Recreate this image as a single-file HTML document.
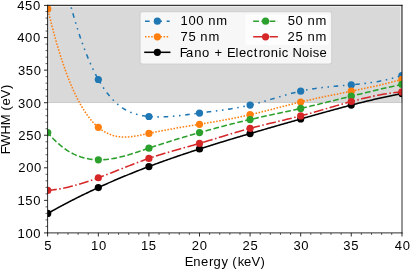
<!DOCTYPE html><html><head><meta charset="utf-8"><title>FWHM vs Energy</title><style>html,body{margin:0;padding:0;background:#fff;overflow:hidden;}svg{display:block;will-change:transform;}text{font-family:"Liberation Sans",sans-serif;fill:#000;}</style></head><body>
<svg width="410" height="269" viewBox="0 0 410 269">
<defs><clipPath id="c"><rect x="47.60" y="5.40" width="354.40" height="227.50"/></clipPath></defs>
<rect x="47.60" y="4.85" width="354.40" height="97.65" fill="#808080" fill-opacity="0.300" stroke="#808080" stroke-opacity="0.300" stroke-width="1.031"/>
<path d="M48.90 6.10V102.00M400.50 6.10V102.00M49.40 6.60H400.00" stroke="#fff" stroke-opacity="0.55" stroke-width="1" fill="none"/>
<g clip-path="url(#c)">
<polyline points="47.75,-102.96 48.93,-96.12 50.12,-89.42 51.30,-82.87 52.49,-76.46 53.67,-70.18 54.86,-64.05 56.04,-58.05 57.22,-52.18 58.41,-46.45 59.59,-40.85 60.78,-35.38 61.96,-30.04 63.15,-24.83 64.33,-19.74 65.51,-14.78 66.70,-9.94 67.88,-5.22 69.07,-0.62 70.25,3.86 71.44,8.23 72.62,12.48 73.80,16.62 74.99,20.65 76.17,24.56 77.36,28.37 78.54,32.07 79.73,35.66 80.91,39.15 82.09,42.54 83.28,45.83 84.46,49.02 85.65,52.11 86.83,55.10 88.02,58.00 89.20,60.81 90.38,63.52 91.57,66.14 92.75,68.68 93.94,71.13 95.12,73.49 96.31,75.77 97.49,77.97 98.67,80.08 99.86,82.12 101.04,84.08 102.23,85.96 103.41,87.77 104.60,89.50 105.78,91.17 106.96,92.76 108.15,94.29 109.33,95.74 110.52,97.14 111.70,98.47 112.89,99.73 114.07,100.94 115.25,102.08 116.44,103.17 117.62,104.21 118.81,105.19 119.99,106.11 121.18,106.98 122.36,107.81 123.54,108.58 124.73,109.31 125.91,110.00 127.10,110.64 128.28,111.23 129.47,111.79 130.65,112.31 131.83,112.79 133.02,113.23 134.20,113.64 135.39,114.02 136.57,114.36 137.76,114.68 138.94,114.97 140.12,115.23 141.31,115.46 142.49,115.67 143.68,115.86 144.86,116.03 146.05,116.18 147.23,116.31 148.41,116.43 149.60,116.53 150.78,116.62 151.97,116.70 153.15,116.76 154.34,116.81 155.52,116.85 156.70,116.88 157.89,116.89 159.07,116.90 160.26,116.89 161.44,116.87 162.63,116.85 163.81,116.81 164.99,116.76 166.18,116.71 167.36,116.65 168.55,116.58 169.73,116.50 170.92,116.41 172.10,116.32 173.28,116.22 174.47,116.11 175.65,116.00 176.84,115.88 178.02,115.76 179.21,115.63 180.39,115.50 181.57,115.36 182.76,115.22 183.94,115.08 185.13,114.93 186.31,114.78 187.50,114.63 188.68,114.47 189.86,114.32 191.05,114.16 192.23,114.00 193.42,113.84 194.60,113.69 195.79,113.53 196.97,113.37 198.15,113.21 199.34,113.06 200.52,112.90 201.71,112.75 202.89,112.60 204.08,112.44 205.26,112.29 206.44,112.14 207.63,111.99 208.81,111.85 210.00,111.70 211.18,111.55 212.37,111.40 213.55,111.25 214.73,111.09 215.92,110.94 217.10,110.79 218.29,110.63 219.47,110.47 220.66,110.31 221.84,110.15 223.02,109.99 224.21,109.82 225.39,109.65 226.58,109.48 227.76,109.30 228.94,109.12 230.13,108.94 231.31,108.75 232.50,108.56 233.68,108.37 234.87,108.17 236.05,107.96 237.23,107.75 238.42,107.54 239.60,107.32 240.79,107.09 241.97,106.86 243.16,106.62 244.34,106.38 245.52,106.13 246.71,105.87 247.89,105.61 249.08,105.34 250.26,105.06 251.45,104.77 252.63,104.48 253.81,104.18 255.00,103.87 256.18,103.56 257.37,103.24 258.55,102.92 259.74,102.59 260.92,102.26 262.10,101.92 263.29,101.58 264.47,101.24 265.66,100.89 266.84,100.55 268.03,100.20 269.21,99.84 270.39,99.49 271.58,99.13 272.76,98.78 273.95,98.42 275.13,98.07 276.32,97.71 277.50,97.36 278.68,97.00 279.87,96.65 281.05,96.30 282.24,95.95 283.42,95.61 284.61,95.27 285.79,94.93 286.97,94.59 288.16,94.26 289.34,93.94 290.53,93.62 291.71,93.30 292.90,92.99 294.08,92.69 295.26,92.39 296.45,92.10 297.63,91.82 298.82,91.54 300.00,91.28 301.19,91.02 302.37,90.77 303.55,90.52 304.74,90.29 305.92,90.06 307.11,89.85 308.29,89.63 309.48,89.43 310.66,89.23 311.84,89.04 313.03,88.86 314.21,88.68 315.40,88.50 316.58,88.34 317.77,88.17 318.95,88.02 320.13,87.87 321.32,87.72 322.50,87.58 323.69,87.44 324.87,87.30 326.06,87.17 327.24,87.04 328.42,86.92 329.61,86.80 330.79,86.68 331.98,86.56 333.16,86.45 334.35,86.34 335.53,86.23 336.71,86.12 337.90,86.01 339.08,85.91 340.27,85.80 341.45,85.70 342.64,85.59 343.82,85.49 345.00,85.38 346.19,85.28 347.37,85.17 348.56,85.07 349.74,84.96 350.93,84.85 352.11,84.74 353.29,84.63 354.48,84.51 355.66,84.40 356.85,84.28 358.03,84.16 359.22,84.03 360.40,83.90 361.58,83.77 362.77,83.64 363.95,83.50 365.14,83.36 366.32,83.21 367.51,83.06 368.69,82.90 369.87,82.74 371.06,82.57 372.24,82.39 373.43,82.21 374.61,82.03 375.80,81.84 376.98,81.64 378.16,81.43 379.35,81.22 380.53,81.00 381.72,80.77 382.90,80.54 384.09,80.30 385.27,80.04 386.45,79.78 387.64,79.52 388.82,79.24 390.01,78.95 391.19,78.65 392.38,78.35 393.56,78.03 394.74,77.71 395.93,77.37 397.11,77.02 398.30,76.66 399.48,76.30 400.67,75.91 401.85,75.52" fill="none" stroke="#1f77b4" stroke-width="1.546" stroke-linejoin="round" stroke-dasharray="4.638,4.638,1.546,4.638,1.546,4.638" stroke-dashoffset="10.87"/>
<circle cx="47.75" cy="-102.96" r="3.60" fill="#1f77b4"/>
<circle cx="98.34" cy="79.49" r="3.60" fill="#1f77b4"/>
<circle cx="148.92" cy="116.48" r="3.60" fill="#1f77b4"/>
<circle cx="199.51" cy="113.03" r="3.60" fill="#1f77b4"/>
<circle cx="250.09" cy="105.10" r="3.60" fill="#1f77b4"/>
<circle cx="300.68" cy="91.13" r="3.60" fill="#1f77b4"/>
<circle cx="351.26" cy="84.82" r="3.60" fill="#1f77b4"/>
<circle cx="401.85" cy="75.52" r="3.60" fill="#1f77b4"/>
<polyline points="47.75,8.90 48.93,13.84 50.12,18.67 51.30,23.36 52.49,27.94 53.67,32.39 54.86,36.73 56.04,40.95 57.22,45.06 58.41,49.05 59.59,52.92 60.78,56.69 61.96,60.35 63.15,63.89 64.33,67.34 65.51,70.67 66.70,73.91 67.88,77.04 69.07,80.07 70.25,83.00 71.44,85.84 72.62,88.58 73.80,91.22 74.99,93.77 76.17,96.23 77.36,98.60 78.54,100.88 79.73,103.08 80.91,105.19 82.09,107.21 83.28,109.16 84.46,111.02 85.65,112.80 86.83,114.51 88.02,116.14 89.20,117.69 90.38,119.17 91.57,120.58 92.75,121.92 93.94,123.19 95.12,124.39 96.31,125.53 97.49,126.60 98.67,127.61 99.86,128.56 101.04,129.45 102.23,130.28 103.41,131.06 104.60,131.78 105.78,132.44 106.96,133.06 108.15,133.62 109.33,134.13 110.52,134.60 111.70,135.02 112.89,135.40 114.07,135.73 115.25,136.02 116.44,136.27 117.62,136.49 118.81,136.66 119.99,136.80 121.18,136.91 122.36,136.99 123.54,137.03 124.73,137.04 125.91,137.03 127.10,136.99 128.28,136.93 129.47,136.84 130.65,136.73 131.83,136.60 133.02,136.45 134.20,136.28 135.39,136.10 136.57,135.90 137.76,135.69 138.94,135.47 140.12,135.24 141.31,135.00 142.49,134.76 143.68,134.51 144.86,134.25 146.05,134.00 147.23,133.74 148.41,133.49 149.60,133.23 150.78,132.98 151.97,132.73 153.15,132.49 154.34,132.25 155.52,132.01 156.70,131.77 157.89,131.54 159.07,131.30 160.26,131.08 161.44,130.85 162.63,130.62 163.81,130.40 164.99,130.18 166.18,129.96 167.36,129.74 168.55,129.53 169.73,129.31 170.92,129.10 172.10,128.89 173.28,128.68 174.47,128.48 175.65,128.27 176.84,128.06 178.02,127.86 179.21,127.66 180.39,127.46 181.57,127.26 182.76,127.06 183.94,126.86 185.13,126.66 186.31,126.46 187.50,126.26 188.68,126.07 189.86,125.87 191.05,125.67 192.23,125.48 193.42,125.28 194.60,125.09 195.79,124.89 196.97,124.70 198.15,124.50 199.34,124.30 200.52,124.11 201.71,123.91 202.89,123.71 204.08,123.52 205.26,123.32 206.44,123.12 207.63,122.92 208.81,122.72 210.00,122.52 211.18,122.31 212.37,122.11 213.55,121.91 214.73,121.70 215.92,121.49 217.10,121.28 218.29,121.08 219.47,120.86 220.66,120.65 221.84,120.44 223.02,120.22 224.21,120.01 225.39,119.79 226.58,119.57 227.76,119.34 228.94,119.12 230.13,118.89 231.31,118.67 232.50,118.44 233.68,118.20 234.87,117.97 236.05,117.73 237.23,117.49 238.42,117.25 239.60,117.01 240.79,116.76 241.97,116.51 243.16,116.26 244.34,116.00 245.52,115.74 246.71,115.48 247.89,115.22 249.08,114.95 250.26,114.68 251.45,114.41 252.63,114.13 253.81,113.85 255.00,113.57 256.18,113.29 257.37,113.00 258.55,112.71 259.74,112.42 260.92,112.12 262.10,111.83 263.29,111.53 264.47,111.23 265.66,110.93 266.84,110.63 268.03,110.33 269.21,110.02 270.39,109.72 271.58,109.41 272.76,109.10 273.95,108.80 275.13,108.49 276.32,108.18 277.50,107.87 278.68,107.56 279.87,107.25 281.05,106.94 282.24,106.64 283.42,106.33 284.61,106.02 285.79,105.71 286.97,105.41 288.16,105.10 289.34,104.80 290.53,104.50 291.71,104.20 292.90,103.90 294.08,103.60 295.26,103.31 296.45,103.01 297.63,102.72 298.82,102.43 300.00,102.14 301.19,101.86 302.37,101.57 303.55,101.29 304.74,101.02 305.92,100.74 307.11,100.47 308.29,100.20 309.48,99.93 310.66,99.66 311.84,99.40 313.03,99.13 314.21,98.87 315.40,98.61 316.58,98.35 317.77,98.10 318.95,97.84 320.13,97.59 321.32,97.34 322.50,97.09 323.69,96.84 324.87,96.59 326.06,96.34 327.24,96.09 328.42,95.85 329.61,95.60 330.79,95.36 331.98,95.12 333.16,94.87 334.35,94.63 335.53,94.39 336.71,94.15 337.90,93.91 339.08,93.67 340.27,93.43 341.45,93.19 342.64,92.95 343.82,92.71 345.00,92.47 346.19,92.23 347.37,91.99 348.56,91.74 349.74,91.50 350.93,91.26 352.11,91.02 353.29,90.78 354.48,90.53 355.66,90.29 356.85,90.04 358.03,89.80 359.22,89.55 360.40,89.30 361.58,89.05 362.77,88.80 363.95,88.55 365.14,88.30 366.32,88.04 367.51,87.79 368.69,87.53 369.87,87.27 371.06,87.01 372.24,86.75 373.43,86.49 374.61,86.22 375.80,85.95 376.98,85.68 378.16,85.41 379.35,85.14 380.53,84.86 381.72,84.58 382.90,84.30 384.09,84.02 385.27,83.73 386.45,83.44 387.64,83.15 388.82,82.86 390.01,82.56 391.19,82.26 392.38,81.96 393.56,81.65 394.74,81.34 395.93,81.03 397.11,80.72 398.30,80.40 399.48,80.08 400.67,79.75 401.85,79.42" fill="none" stroke="#ff7f0e" stroke-width="1.546" stroke-linejoin="round" stroke-dasharray="1.546,1.546" stroke-dashoffset="1.49"/>
<circle cx="47.75" cy="8.90" r="3.60" fill="#ff7f0e"/>
<circle cx="98.34" cy="127.33" r="3.60" fill="#ff7f0e"/>
<circle cx="148.92" cy="133.38" r="3.60" fill="#ff7f0e"/>
<circle cx="199.51" cy="124.28" r="3.60" fill="#ff7f0e"/>
<circle cx="250.09" cy="114.72" r="3.60" fill="#ff7f0e"/>
<circle cx="300.68" cy="101.98" r="3.60" fill="#ff7f0e"/>
<circle cx="351.26" cy="91.19" r="3.60" fill="#ff7f0e"/>
<circle cx="401.85" cy="79.42" r="3.60" fill="#ff7f0e"/>
<polyline points="47.75,213.46 48.93,212.79 50.12,212.12 51.30,211.46 52.49,210.79 53.67,210.14 54.86,209.48 56.04,208.83 57.22,208.19 58.41,207.54 59.59,206.90 60.78,206.26 61.96,205.63 63.15,205.00 64.33,204.37 65.51,203.74 66.70,203.12 67.88,202.50 69.07,201.88 70.25,201.27 71.44,200.66 72.62,200.05 73.80,199.45 74.99,198.85 76.17,198.25 77.36,197.66 78.54,197.06 79.73,196.48 80.91,195.89 82.09,195.31 83.28,194.72 84.46,194.15 85.65,193.57 86.83,193.00 88.02,192.43 89.20,191.86 90.38,191.30 91.57,190.74 92.75,190.18 93.94,189.63 95.12,189.07 96.31,188.52 97.49,187.98 98.67,187.43 99.86,186.89 101.04,186.35 102.23,185.81 103.41,185.28 104.60,184.75 105.78,184.22 106.96,183.69 108.15,183.16 109.33,182.64 110.52,182.12 111.70,181.61 112.89,181.09 114.07,180.58 115.25,180.07 116.44,179.56 117.62,179.06 118.81,178.56 119.99,178.06 121.18,177.56 122.36,177.06 123.54,176.57 124.73,176.08 125.91,175.59 127.10,175.10 128.28,174.62 129.47,174.14 130.65,173.66 131.83,173.18 133.02,172.71 134.20,172.23 135.39,171.76 136.57,171.29 137.76,170.83 138.94,170.36 140.12,169.90 141.31,169.44 142.49,168.98 143.68,168.52 144.86,168.07 146.05,167.62 147.23,167.17 148.41,166.72 149.60,166.27 150.78,165.83 151.97,165.38 153.15,164.94 154.34,164.50 155.52,164.07 156.70,163.63 157.89,163.20 159.07,162.76 160.26,162.33 161.44,161.91 162.63,161.48 163.81,161.06 164.99,160.63 166.18,160.21 167.36,159.79 168.55,159.37 169.73,158.96 170.92,158.54 172.10,158.13 173.28,157.72 174.47,157.31 175.65,156.90 176.84,156.49 178.02,156.09 179.21,155.68 180.39,155.28 181.57,154.88 182.76,154.48 183.94,154.08 185.13,153.68 186.31,153.29 187.50,152.90 188.68,152.50 189.86,152.11 191.05,151.72 192.23,151.33 193.42,150.95 194.60,150.56 195.79,150.18 196.97,149.79 198.15,149.41 199.34,149.03 200.52,148.65 201.71,148.27 202.89,147.89 204.08,147.52 205.26,147.14 206.44,146.77 207.63,146.40 208.81,146.02 210.00,145.65 211.18,145.28 212.37,144.91 213.55,144.55 214.73,144.18 215.92,143.81 217.10,143.45 218.29,143.08 219.47,142.72 220.66,142.36 221.84,142.00 223.02,141.64 224.21,141.28 225.39,140.92 226.58,140.56 227.76,140.20 228.94,139.84 230.13,139.49 231.31,139.13 232.50,138.78 233.68,138.42 234.87,138.07 236.05,137.72 237.23,137.36 238.42,137.01 239.60,136.66 240.79,136.31 241.97,135.96 243.16,135.61 244.34,135.26 245.52,134.91 246.71,134.57 247.89,134.22 249.08,133.87 250.26,133.52 251.45,133.18 252.63,132.83 253.81,132.48 255.00,132.14 256.18,131.79 257.37,131.45 258.55,131.10 259.74,130.76 260.92,130.41 262.10,130.07 263.29,129.73 264.47,129.38 265.66,129.04 266.84,128.70 268.03,128.36 269.21,128.01 270.39,127.67 271.58,127.33 272.76,126.99 273.95,126.65 275.13,126.31 276.32,125.97 277.50,125.63 278.68,125.29 279.87,124.95 281.05,124.61 282.24,124.27 283.42,123.93 284.61,123.59 285.79,123.25 286.97,122.91 288.16,122.58 289.34,122.24 290.53,121.90 291.71,121.56 292.90,121.22 294.08,120.89 295.26,120.55 296.45,120.21 297.63,119.88 298.82,119.54 300.00,119.20 301.19,118.87 302.37,118.53 303.55,118.19 304.74,117.86 305.92,117.52 307.11,117.18 308.29,116.85 309.48,116.51 310.66,116.18 311.84,115.84 313.03,115.51 314.21,115.18 315.40,114.84 316.58,114.51 317.77,114.18 318.95,113.85 320.13,113.52 321.32,113.19 322.50,112.86 323.69,112.53 324.87,112.20 326.06,111.87 327.24,111.54 328.42,111.22 329.61,110.89 330.79,110.56 331.98,110.24 333.16,109.92 334.35,109.59 335.53,109.27 336.71,108.95 337.90,108.63 339.08,108.31 340.27,108.00 341.45,107.68 342.64,107.36 343.82,107.05 345.00,106.73 346.19,106.42 347.37,106.11 348.56,105.80 349.74,105.49 350.93,105.19 352.11,104.88 353.29,104.57 354.48,104.27 355.66,103.97 356.85,103.67 358.03,103.37 359.22,103.07 360.40,102.77 361.58,102.48 362.77,102.18 363.95,101.89 365.14,101.60 366.32,101.31 367.51,101.03 368.69,100.74 369.87,100.46 371.06,100.17 372.24,99.89 373.43,99.62 374.61,99.34 375.80,99.06 376.98,98.79 378.16,98.52 379.35,98.25 380.53,97.98 381.72,97.72 382.90,97.45 384.09,97.19 385.27,96.93 386.45,96.68 387.64,96.42 388.82,96.17 390.01,95.92 391.19,95.67 392.38,95.42 393.56,95.18 394.74,94.93 395.93,94.69 397.11,94.46 398.30,94.22 399.48,93.99 400.67,93.76 401.85,93.53" fill="none" stroke="black" stroke-width="1.546" stroke-linejoin="round"/>
<circle cx="47.75" cy="213.46" r="3.60" fill="black"/>
<circle cx="98.34" cy="187.59" r="3.60" fill="black"/>
<circle cx="148.92" cy="166.53" r="3.60" fill="black"/>
<circle cx="199.51" cy="148.97" r="3.60" fill="black"/>
<circle cx="250.09" cy="133.57" r="3.60" fill="black"/>
<circle cx="300.68" cy="119.01" r="3.60" fill="black"/>
<circle cx="351.26" cy="105.10" r="3.60" fill="black"/>
<circle cx="401.85" cy="93.53" r="3.60" fill="black"/>
<polyline points="47.75,132.60 48.93,134.00 50.12,135.36 51.30,136.67 52.49,137.94 53.67,139.17 54.86,140.36 56.04,141.50 57.22,142.61 58.41,143.67 59.59,144.70 60.78,145.68 61.96,146.63 63.15,147.54 64.33,148.41 65.51,149.25 66.70,150.05 67.88,150.81 69.07,151.54 70.25,152.23 71.44,152.89 72.62,153.51 73.80,154.10 74.99,154.66 76.17,155.19 77.36,155.68 78.54,156.15 79.73,156.58 80.91,156.99 82.09,157.36 83.28,157.71 84.46,158.03 85.65,158.31 86.83,158.58 88.02,158.81 89.20,159.02 90.38,159.21 91.57,159.37 92.75,159.50 93.94,159.61 95.12,159.70 96.31,159.77 97.49,159.81 98.67,159.83 99.86,159.83 101.04,159.81 102.23,159.77 103.41,159.71 104.60,159.63 105.78,159.53 106.96,159.42 108.15,159.28 109.33,159.13 110.52,158.97 111.70,158.78 112.89,158.59 114.07,158.37 115.25,158.15 116.44,157.91 117.62,157.66 118.81,157.39 119.99,157.11 121.18,156.83 122.36,156.53 123.54,156.22 124.73,155.90 125.91,155.57 127.10,155.23 128.28,154.89 129.47,154.53 130.65,154.17 131.83,153.81 133.02,153.43 134.20,153.06 135.39,152.67 136.57,152.29 137.76,151.90 138.94,151.50 140.12,151.11 141.31,150.71 142.49,150.31 143.68,149.91 144.86,149.50 146.05,149.10 147.23,148.70 148.41,148.30 149.60,147.90 150.78,147.50 151.97,147.11 153.15,146.72 154.34,146.33 155.52,145.94 156.70,145.55 157.89,145.16 159.07,144.78 160.26,144.40 161.44,144.02 162.63,143.64 163.81,143.26 164.99,142.88 166.18,142.51 167.36,142.14 168.55,141.77 169.73,141.40 170.92,141.03 172.10,140.67 173.28,140.30 174.47,139.94 175.65,139.58 176.84,139.22 178.02,138.86 179.21,138.50 180.39,138.15 181.57,137.79 182.76,137.44 183.94,137.09 185.13,136.74 186.31,136.39 187.50,136.04 188.68,135.70 189.86,135.35 191.05,135.01 192.23,134.67 193.42,134.33 194.60,133.99 195.79,133.65 196.97,133.31 198.15,132.98 199.34,132.64 200.52,132.31 201.71,131.98 202.89,131.65 204.08,131.32 205.26,130.99 206.44,130.66 207.63,130.33 208.81,130.01 210.00,129.68 211.18,129.36 212.37,129.04 213.55,128.72 214.73,128.40 215.92,128.08 217.10,127.77 218.29,127.45 219.47,127.14 220.66,126.83 221.84,126.51 223.02,126.20 224.21,125.90 225.39,125.59 226.58,125.28 227.76,124.98 228.94,124.68 230.13,124.38 231.31,124.08 232.50,123.78 233.68,123.48 234.87,123.19 236.05,122.89 237.23,122.60 238.42,122.31 239.60,122.02 240.79,121.73 241.97,121.45 243.16,121.16 244.34,120.88 245.52,120.60 246.71,120.32 247.89,120.04 249.08,119.77 250.26,119.49 251.45,119.22 252.63,118.95 253.81,118.68 255.00,118.41 256.18,118.14 257.37,117.88 258.55,117.61 259.74,117.35 260.92,117.09 262.10,116.82 263.29,116.56 264.47,116.30 265.66,116.05 266.84,115.79 268.03,115.53 269.21,115.27 270.39,115.02 271.58,114.76 272.76,114.51 273.95,114.25 275.13,114.00 276.32,113.74 277.50,113.49 278.68,113.23 279.87,112.98 281.05,112.72 282.24,112.47 283.42,112.21 284.61,111.96 285.79,111.70 286.97,111.45 288.16,111.19 289.34,110.93 290.53,110.67 291.71,110.41 292.90,110.15 294.08,109.89 295.26,109.63 296.45,109.37 297.63,109.10 298.82,108.84 300.00,108.57 301.19,108.30 302.37,108.03 303.55,107.76 304.74,107.49 305.92,107.22 307.11,106.94 308.29,106.67 309.48,106.39 310.66,106.11 311.84,105.83 313.03,105.55 314.21,105.27 315.40,104.99 316.58,104.71 317.77,104.42 318.95,104.14 320.13,103.85 321.32,103.57 322.50,103.28 323.69,102.99 324.87,102.70 326.06,102.41 327.24,102.12 328.42,101.83 329.61,101.54 330.79,101.25 331.98,100.96 333.16,100.67 334.35,100.38 335.53,100.09 336.71,99.79 337.90,99.50 339.08,99.21 340.27,98.91 341.45,98.62 342.64,98.33 343.82,98.03 345.00,97.74 346.19,97.45 347.37,97.15 348.56,96.86 349.74,96.57 350.93,96.28 352.11,95.98 353.29,95.69 354.48,95.40 355.66,95.11 356.85,94.82 358.03,94.53 359.22,94.24 360.40,93.95 361.58,93.66 362.77,93.37 363.95,93.08 365.14,92.79 366.32,92.51 367.51,92.22 368.69,91.94 369.87,91.65 371.06,91.37 372.24,91.08 373.43,90.80 374.61,90.52 375.80,90.24 376.98,89.96 378.16,89.69 379.35,89.41 380.53,89.14 381.72,88.86 382.90,88.59 384.09,88.32 385.27,88.05 386.45,87.78 387.64,87.51 388.82,87.25 390.01,86.98 391.19,86.72 392.38,86.46 393.56,86.20 394.74,85.94 395.93,85.68 397.11,85.43 398.30,85.18 399.48,84.93 400.67,84.68 401.85,84.43" fill="none" stroke="#2ca02c" stroke-width="1.546" stroke-linejoin="round" stroke-dasharray="5.720,2.473" stroke-dashoffset="1.21"/>
<circle cx="47.75" cy="132.60" r="3.60" fill="#2ca02c"/>
<circle cx="98.34" cy="159.83" r="3.60" fill="#2ca02c"/>
<circle cx="148.92" cy="148.13" r="3.60" fill="#2ca02c"/>
<circle cx="199.51" cy="132.60" r="3.60" fill="#2ca02c"/>
<circle cx="250.09" cy="119.53" r="3.60" fill="#2ca02c"/>
<circle cx="300.68" cy="108.42" r="3.60" fill="#2ca02c"/>
<circle cx="351.26" cy="96.19" r="3.60" fill="#2ca02c"/>
<circle cx="401.85" cy="84.43" r="3.60" fill="#2ca02c"/>
<polyline points="47.75,190.38 48.93,190.28 50.12,190.17 51.30,190.05 52.49,189.91 53.67,189.77 54.86,189.61 56.04,189.44 57.22,189.26 58.41,189.07 59.59,188.87 60.78,188.66 61.96,188.44 63.15,188.21 64.33,187.97 65.51,187.72 66.70,187.46 67.88,187.19 69.07,186.91 70.25,186.62 71.44,186.33 72.62,186.02 73.80,185.71 74.99,185.39 76.17,185.06 77.36,184.73 78.54,184.39 79.73,184.04 80.91,183.68 82.09,183.32 83.28,182.95 84.46,182.57 85.65,182.19 86.83,181.80 88.02,181.41 89.20,181.01 90.38,180.61 91.57,180.20 92.75,179.78 93.94,179.36 95.12,178.94 96.31,178.51 97.49,178.08 98.67,177.64 99.86,177.20 101.04,176.76 102.23,176.32 103.41,175.87 104.60,175.41 105.78,174.96 106.96,174.50 108.15,174.04 109.33,173.58 110.52,173.12 111.70,172.66 112.89,172.19 114.07,171.72 115.25,171.26 116.44,170.79 117.62,170.32 118.81,169.85 119.99,169.38 121.18,168.91 122.36,168.44 123.54,167.97 124.73,167.50 125.91,167.03 127.10,166.56 128.28,166.10 129.47,165.64 130.65,165.17 131.83,164.71 133.02,164.25 134.20,163.80 135.39,163.34 136.57,162.89 137.76,162.45 138.94,162.00 140.12,161.56 141.31,161.12 142.49,160.69 143.68,160.26 144.86,159.83 146.05,159.41 147.23,158.99 148.41,158.58 149.60,158.17 150.78,157.77 151.97,157.37 153.15,156.97 154.34,156.58 155.52,156.20 156.70,155.82 157.89,155.44 159.07,155.07 160.26,154.70 161.44,154.33 162.63,153.97 163.81,153.61 164.99,153.25 166.18,152.90 167.36,152.55 168.55,152.20 169.73,151.85 170.92,151.51 172.10,151.17 173.28,150.82 174.47,150.49 175.65,150.15 176.84,149.81 178.02,149.47 179.21,149.14 180.39,148.81 181.57,148.47 182.76,148.14 183.94,147.81 185.13,147.48 186.31,147.14 187.50,146.81 188.68,146.48 189.86,146.14 191.05,145.81 192.23,145.47 193.42,145.14 194.60,144.80 195.79,144.46 196.97,144.12 198.15,143.78 199.34,143.43 200.52,143.09 201.71,142.74 202.89,142.39 204.08,142.04 205.26,141.68 206.44,141.33 207.63,140.97 208.81,140.61 210.00,140.25 211.18,139.89 212.37,139.53 213.55,139.17 214.73,138.81 215.92,138.45 217.10,138.09 218.29,137.72 219.47,137.36 220.66,137.00 221.84,136.64 223.02,136.27 224.21,135.91 225.39,135.55 226.58,135.19 227.76,134.83 228.94,134.47 230.13,134.11 231.31,133.76 232.50,133.40 233.68,133.05 234.87,132.70 236.05,132.35 237.23,132.00 238.42,131.65 239.60,131.31 240.79,130.97 241.97,130.63 243.16,130.29 244.34,129.95 245.52,129.62 246.71,129.29 247.89,128.97 249.08,128.64 250.26,128.33 251.45,128.01 252.63,127.70 253.81,127.39 255.00,127.08 256.18,126.77 257.37,126.47 258.55,126.17 259.74,125.88 260.92,125.58 262.10,125.29 263.29,125.00 264.47,124.71 265.66,124.42 266.84,124.13 268.03,123.85 269.21,123.56 270.39,123.28 271.58,123.00 272.76,122.72 273.95,122.44 275.13,122.15 276.32,121.87 277.50,121.59 278.68,121.31 279.87,121.03 281.05,120.75 282.24,120.47 283.42,120.19 284.61,119.90 285.79,119.62 286.97,119.33 288.16,119.04 289.34,118.76 290.53,118.47 291.71,118.17 292.90,117.88 294.08,117.58 295.26,117.29 296.45,116.99 297.63,116.68 298.82,116.38 300.00,116.07 301.19,115.76 302.37,115.44 303.55,115.13 304.74,114.81 305.92,114.48 307.11,114.16 308.29,113.83 309.48,113.50 310.66,113.17 311.84,112.84 313.03,112.50 314.21,112.16 315.40,111.83 316.58,111.49 317.77,111.15 318.95,110.80 320.13,110.46 321.32,110.12 322.50,109.77 323.69,109.43 324.87,109.08 326.06,108.73 327.24,108.39 328.42,108.04 329.61,107.69 330.79,107.35 331.98,107.00 333.16,106.66 334.35,106.31 335.53,105.97 336.71,105.62 337.90,105.28 339.08,104.94 340.27,104.60 341.45,104.26 342.64,103.92 343.82,103.59 345.00,103.25 346.19,102.92 347.37,102.59 348.56,102.26 349.74,101.94 350.93,101.62 352.11,101.29 353.29,100.98 354.48,100.66 355.66,100.35 356.85,100.04 358.03,99.74 359.22,99.43 360.40,99.14 361.58,98.84 362.77,98.55 363.95,98.26 365.14,97.98 366.32,97.70 367.51,97.42 368.69,97.15 369.87,96.89 371.06,96.63 372.24,96.37 373.43,96.12 374.61,95.87 375.80,95.63 376.98,95.39 378.16,95.16 379.35,94.94 380.53,94.72 381.72,94.51 382.90,94.30 384.09,94.10 385.27,93.90 386.45,93.71 387.64,93.53 388.82,93.36 390.01,93.19 391.19,93.03 392.38,92.87 393.56,92.73 394.74,92.59 395.93,92.45 397.11,92.33 398.30,92.21 399.48,92.10 400.67,92.00 401.85,91.91" fill="none" stroke="#d62728" stroke-width="1.546" stroke-linejoin="round" stroke-dasharray="9.893,2.473,1.546,2.473" stroke-dashoffset="0.78"/>
<circle cx="47.75" cy="190.38" r="3.60" fill="#d62728"/>
<circle cx="98.34" cy="177.77" r="3.60" fill="#d62728"/>
<circle cx="148.92" cy="158.40" r="3.60" fill="#d62728"/>
<circle cx="199.51" cy="143.38" r="3.60" fill="#d62728"/>
<circle cx="250.09" cy="128.37" r="3.60" fill="#d62728"/>
<circle cx="300.68" cy="115.89" r="3.60" fill="#d62728"/>
<circle cx="351.26" cy="101.52" r="3.60" fill="#d62728"/>
<circle cx="401.85" cy="91.91" r="3.60" fill="#d62728"/>
</g>
<path d="M47.60 232.90v3.61M98.34 232.90v3.61M148.92 232.90v3.61M199.51 232.90v3.61M250.09 232.90v3.61M300.68 232.90v3.61M351.26 232.90v3.61M402.00 232.90v3.61M47.60 232.90h-3.61M47.60 200.35h-3.61M47.60 167.80h-3.61M47.60 135.25h-3.61M47.60 102.70h-3.61M47.60 70.15h-3.61M47.60 37.60h-3.61M47.60 5.40h-3.61" stroke="#000" stroke-width="0.824" fill="none"/>
<path d="M57.87 232.90v2.06M67.98 232.90v2.06M78.10 232.90v2.06M88.22 232.90v2.06M108.45 232.90v2.06M118.57 232.90v2.06M128.69 232.90v2.06M138.80 232.90v2.06M159.04 232.90v2.06M169.16 232.90v2.06M179.27 232.90v2.06M189.39 232.90v2.06M209.62 232.90v2.06M219.74 232.90v2.06M229.86 232.90v2.06M239.98 232.90v2.06M260.21 232.90v2.06M270.33 232.90v2.06M280.44 232.90v2.06M290.56 232.90v2.06M310.80 232.90v2.06M320.91 232.90v2.06M331.03 232.90v2.06M341.15 232.90v2.06M361.38 232.90v2.06M371.50 232.90v2.06M381.62 232.90v2.06M391.73 232.90v2.06M47.60 226.39h-2.06M47.60 219.88h-2.06M47.60 213.37h-2.06M47.60 206.86h-2.06M47.60 193.84h-2.06M47.60 187.33h-2.06M47.60 180.82h-2.06M47.60 174.31h-2.06M47.60 161.29h-2.06M47.60 154.78h-2.06M47.60 148.27h-2.06M47.60 141.76h-2.06M47.60 128.74h-2.06M47.60 122.23h-2.06M47.60 115.72h-2.06M47.60 109.21h-2.06M47.60 96.19h-2.06M47.60 89.68h-2.06M47.60 83.17h-2.06M47.60 76.66h-2.06M47.60 63.64h-2.06M47.60 57.13h-2.06M47.60 50.62h-2.06M47.60 44.11h-2.06M47.60 31.09h-2.06M47.60 24.58h-2.06M47.60 18.07h-2.06M47.60 11.56h-2.06" stroke="#000" stroke-width="0.618" fill="none"/>
<path d="M47.60 5.40V232.90M402.00 5.40V232.90M47.60 5.40H402.00M47.60 232.90H402.00" stroke="#000" stroke-width="0.824" fill="none" stroke-linecap="square"/>
<rect x="140.10" y="11.65" width="191.60" height="52.35" rx="2.47" fill="#fff" fill-opacity="0.8" stroke="#cccccc" stroke-opacity="0.8" stroke-width="1.031"/>
<rect x="245.20" y="14.50" width="83.60" height="30.40" rx="2.47" fill="#fff" fill-opacity="0.80"/>
<path d="M145.00 21.20h24.70" stroke="#1f77b4" stroke-width="1.546" stroke-dasharray="4.638,4.638,1.546,4.638,1.546,4.638"/>
<circle cx="157.35" cy="21.20" r="3.60" fill="#1f77b4"/>
<text x="180.55 188.49 196.36 204.08 208.18 216.34" y="25.45" font-size="13.00">100 nm</text>
<path d="M145.00 36.80h24.70" stroke="#ff7f0e" stroke-width="1.546" stroke-dasharray="1.546,1.546"/>
<circle cx="157.35" cy="36.80" r="3.60" fill="#ff7f0e"/>
<text x="180.59 188.44 196.21 200.31 208.47" y="41.00" font-size="13.00">75 nm</text>
<path d="M145.00 52.30h24.70" stroke="black" stroke-width="1.546" stroke-linecap="square"/>
<circle cx="157.35" cy="52.30" r="3.60" fill="black"/>
<text x="179.86 186.00 194.21 201.89 209.45 214.61 223.75 227.06 235.62 239.00 246.40 253.79 258.67 263.06 270.79 278.59 281.75 288.71 292.41 301.91 309.59 312.81 319.41" y="56.55" font-size="13.00">Fano + Electronic Noise</text>
<path d="M253.20 21.20h24.70" stroke="#2ca02c" stroke-width="1.546" stroke-dasharray="5.720,2.473"/>
<circle cx="265.55" cy="21.20" r="3.60" fill="#2ca02c"/>
<text x="287.67 295.59 303.31 307.41 315.57" y="25.45" font-size="13.00">50 nm</text>
<path d="M253.20 36.80h24.70" stroke="#d62728" stroke-width="1.546" stroke-dasharray="9.893,2.473,1.546,2.473"/>
<circle cx="265.55" cy="36.80" r="3.60" fill="#d62728"/>
<text x="287.55 295.54 303.31 307.41 315.57" y="41.00" font-size="13.00">25 nm</text>
<text x="44.14" y="249.71" font-size="13.00">5</text>
<text x="91.02 98.96" y="249.71" font-size="13.00">10</text>
<text x="140.89 148.78" y="249.71" font-size="13.00">15</text>
<text x="191.83 199.87" y="249.71" font-size="13.00">20</text>
<text x="242.59 250.58" y="249.71" font-size="13.00">25</text>
<text x="293.40 301.26" y="249.71" font-size="13.00">30</text>
<text x="343.37 351.18" y="249.71" font-size="13.00">35</text>
<text x="394.75 402.63" y="249.71" font-size="13.00">40</text>
<text x="184.69 193.31 201.04 209.06 213.51 221.54 228.62 232.31 237.65 244.10 251.39 260.54" y="265.84" font-size="13.00">Energy (keV)</text>
<text x="17.46 25.40 33.27" y="237.50" font-size="13.00">100</text>
<text x="17.46 25.35 33.27" y="205.00" font-size="13.00">150</text>
<text x="18.20 26.24 34.11" y="171.50" font-size="13.00">200</text>
<text x="18.20 26.19 34.11" y="140.00" font-size="13.00">250</text>
<text x="17.98 25.84 33.71" y="107.50" font-size="13.00">300</text>
<text x="17.98 25.79 33.71" y="75.00" font-size="13.00">350</text>
<text x="17.15 25.03 32.90" y="41.50" font-size="13.00">400</text>
<text x="17.15 24.98 32.90" y="10.00" font-size="13.00">450</text>
<text x="-0.44 7.09 19.31 28.58 39.50 43.19 48.31 55.60 64.75" y="0" font-size="13.00" transform="translate(9.81 153.72) rotate(-90)">FWHM (eV)</text>
</svg></body></html>
